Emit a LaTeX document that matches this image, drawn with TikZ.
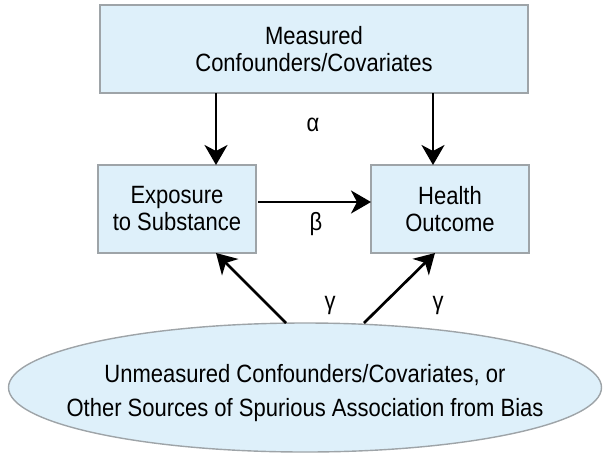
\documentclass[tikz,border=0pt]{standalone}
\usepackage{fontspec}
\setmainfont{Liberation Sans}[FakeStretch=0.88]
\usepackage{tikz}
\usetikzlibrary{arrows.meta,positioning,shapes.geometric}
\usepackage{xcolor}
\definecolor{boxfillc}{HTML}{DEF0FA}
\definecolor{boxlinec}{HTML}{9EA4A8}

\begin{document}
\begin{tikzpicture}[
  box/.style={draw=boxlinec, fill=boxfillc, line width=1.4pt, outer sep=0pt,
    align=center, font=\fontsize{25pt}{27pt}\selectfont},
  oval/.style={ellipse, draw=boxlinec, fill=boxfillc, line width=1.4pt, outer sep=0pt,
    inner xsep=-40pt, minimum width=593pt, minimum height=129pt,
    align=center, font=\fontsize{25pt}{34pt}\selectfont},
  arr/.style={-{Stealth[length=20pt, width=23pt, inset=6pt]}, line width=2.7pt},
  lbl/.style={font=\fontsize{25pt}{27pt}\selectfont, inner sep=0pt}
]
  \useasboundingbox (0,0) rectangle (608pt,-459pt);

  \node[box, minimum width=428pt, minimum height=88pt] (meas) at (314pt,-49pt)
    {Measured\\Confounders/Covariates};
  \node[box, minimum width=158pt, minimum height=88pt,
    below right=72pt and -2pt of meas.south west] (expo) {Exposure\\to Substance};
  \node[box, minimum width=158pt, minimum height=88pt, right=115pt of expo] (health)
    {Health\\Outcome};
  \node[oval] (unmeas) at (305pt,-387.5pt)
    {\rule{0pt}{30pt}Unmeasured Confounders/Covariates, or\\Other Sources of Spurious Association from Bias};

  \node[lbl] (alpha) at (313pt,-125pt) {α};
  \node[lbl] (beta) at (316pt,-224pt) {β};
  \node[lbl] (gam1) at (330pt,-305pt) {γ};
  \node[lbl] (gam2) at (438pt,-305pt) {γ};

  \draw[arr] ([xshift=39pt]expo.north |- meas.south) -- ([xshift=39pt]expo.north);
  \draw[arr] ([xshift=-17pt]health.north |- meas.south) -- ([xshift=-17pt]health.north);
  \draw[arr, shorten <=2pt] ([yshift=7pt]expo.east) -- ([yshift=7pt]health.west);
  \draw[arr] ([xshift=-19pt]unmeas.north) -- ([xshift=39pt]expo.south);
  \draw[arr] ([xshift=59pt]unmeas.north) -- ([xshift=-15pt]health.south);
\end{tikzpicture}
\end{document}
